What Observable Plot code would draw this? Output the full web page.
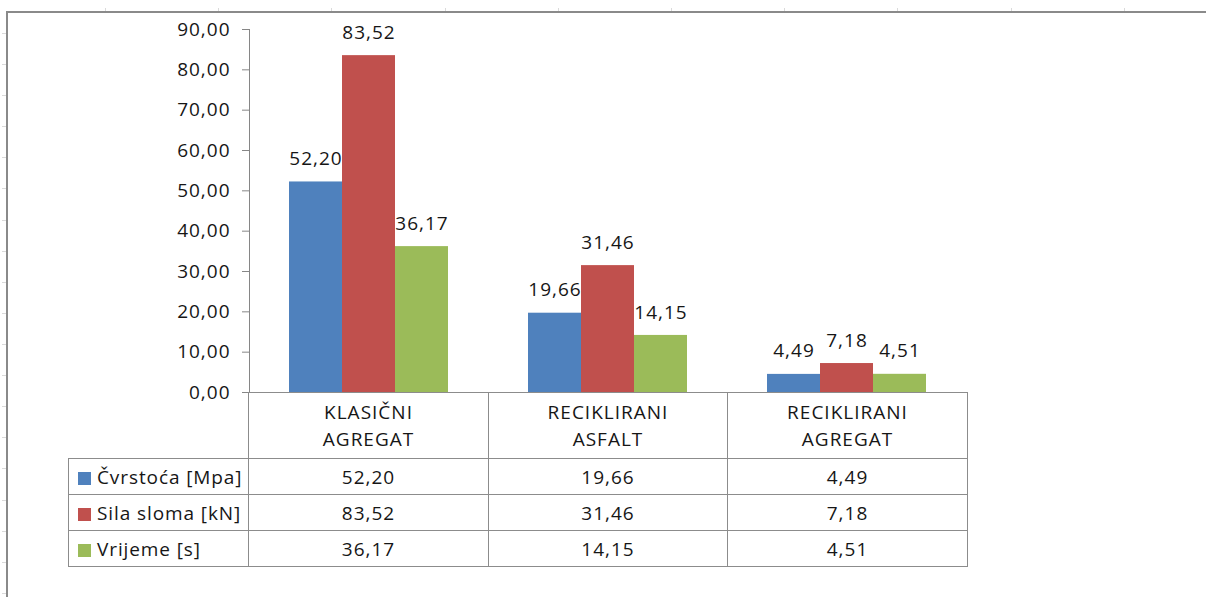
<!DOCTYPE html>
<html>
<head>
<meta charset="utf-8">
<script src="https://cdn.jsdelivr.net/npm/d3@7"></script>
<script src="https://cdn.jsdelivr.net/npm/@observablehq/plot@0.6"></script>
<style>
  html, body { margin: 0; padding: 0; background: #fff; }
  #page { position: relative; width: 1206px; height: 597px; overflow: hidden; background: #fff;
          font-family: "Open Sans", sans-serif; color: #161616; }
  #chart { position: absolute; left: 0; top: 0; }
  #chart svg g[aria-label="y-axis tick label"] { fill: #161616; }
  #frame-top { position: absolute; left: 6px; top: 11px; right: 0; height: 2px; background: #8a8a8a; }
  #frame-left { position: absolute; left: 6px; top: 11px; bottom: 0; width: 2px; background: #8a8a8a; }
  .rtick-l { position: absolute; left: 2px; width: 4px; height: 1px; background: #dadada; }
  .rtick-t { position: absolute; top: 8px; width: 1px; height: 3px; background: #dadada; }
  table.dt { position: absolute; left: 68px; top: 392px; border-collapse: collapse; table-layout: fixed;
             font-family: "Open Sans", sans-serif; font-size: 19px; color: #161616; letter-spacing: 1px; }
  table.dt td { padding: 0; border: 1px solid #8c8c8c; text-align: center; white-space: nowrap; }
  table.dt tr.head td { height: 65px; line-height: 27px; }
  table.dt tr.head td.blank { border-top: none; border-left: none; border-bottom: 1px solid #8c8c8c; }
  table.dt tr.row td { height: 35px; }
  table.dt td.name { text-align: left; padding-left: 9px; letter-spacing: 0.9px; }
  .sw { display: inline-block; width: 13px; height: 13px; margin-right: 6px; vertical-align: -1px; }
</style>
</head>
<body>
<div id="page">
  <div id="frame-top"></div>
  <div id="frame-left"></div>
  <div id="chart"></div>
</div>
<script>
// ---- data ----
const categories = ["KLASIČNI AGREGAT", "RECIKLIRANI ASFALT", "RECIKLIRANI AGREGAT"];
const seriesNames = ["Čvrstoća [Mpa]", "Sila sloma [kN]", "Vrijeme [s]"];
const cvrstoca = [52.20, 19.66, 4.49];
const silaSloma = [83.52, 31.46, 7.18];
const vrijeme = [36.17, 14.15, 4.51];
const seriesColors = ["#4F81BD", "#C0504D", "#9BBB59"];
const yTicks = [0, 10, 20, 30, 40, 50, 60, 70, 80, 90];

const seriesValues = [cvrstoca, silaSloma, vrijeme];
const data = [];
categories.forEach((c, ci) => seriesNames.forEach((s, si) => data.push({cat: c, series: s, value: seriesValues[si][ci]})));
const fmt = v => v.toFixed(2).replace(".", ",");

const page = document.getElementById("page");
// spreadsheet ruler decoration
for (let y = 33; y < 597; y += 31.1) { const d = document.createElement("div"); d.className = "rtick-l"; d.style.top = Math.round(y) + "px"; page.appendChild(d); }
for (let x = 105; x < 1206; x += 113.2) { const d = document.createElement("div"); d.className = "rtick-t"; d.style.left = Math.round(x) + "px"; page.appendChild(d); }

const chart = Plot.plot({
  width: 1206,
  height: 393,
  marginLeft: 248,
  marginRight: 239,
  marginTop: 29,
  marginBottom: 1,
  style: {fontFamily: "Open Sans, sans-serif", fontSize: "19px", color: "#868686", background: "transparent", overflow: "visible", letterSpacing: "1px"},
  fx: {domain: categories, padding: 0, axis: null},
  x: {domain: seriesNames, paddingInner: 0, paddingOuter: 0.75, axis: null},
  y: {domain: [0, 90], ticks: yTicks, tickFormat: fmt, tickSize: 7, tickPadding: 12, line: true, label: null},
  color: {domain: seriesNames, range: seriesColors},
  marks: [
    Plot.barY(data, {fx: "cat", x: "series", y: "value", fill: "series", inset: 0}),
    Plot.ruleY([0], {stroke: "#868686"}),
    Plot.text(data, {fx: "cat", x: "series", y: "value", text: d => fmt(d.value), dy: -23, fontSize: 19, fill: "#161616"})
  ]
});
document.getElementById("chart").appendChild(chart);

// data table below the chart
const table = document.createElement("table");
table.className = "dt";
const colW = [180, 240, 239, 240];
const cg = document.createElement("colgroup");
colW.forEach(w => { const c = document.createElement("col"); c.style.width = w + "px"; cg.appendChild(c); });
table.appendChild(cg);
const head = document.createElement("tr"); head.className = "head";
const blank = document.createElement("td"); blank.className = "blank"; head.appendChild(blank);
categories.forEach(c => { const td = document.createElement("td"); td.innerHTML = c.split(" ").join("<br>"); head.appendChild(td); });
table.appendChild(head);
seriesNames.forEach((s, si) => {
  const tr = document.createElement("tr"); tr.className = "row";
  const nm = document.createElement("td"); nm.className = "name";
  const sw = document.createElement("span"); sw.className = "sw"; sw.style.background = seriesColors[si];
  nm.appendChild(sw); nm.appendChild(document.createTextNode(s)); tr.appendChild(nm);
  seriesValues[si].forEach(v => { const td = document.createElement("td"); td.textContent = fmt(v); tr.appendChild(td); });
  table.appendChild(tr);
});
page.appendChild(table);
</script>
</body>
</html>
